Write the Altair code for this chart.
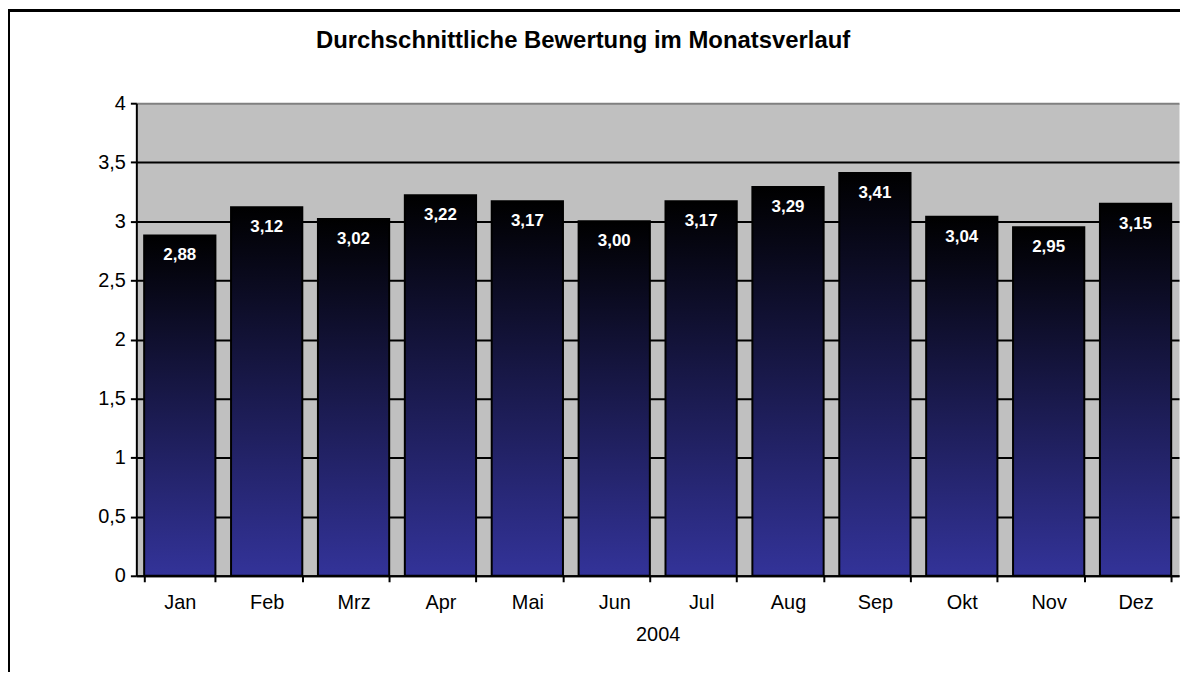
import altair as alt
import pandas as pd

months = ["Jan", "Feb", "Mrz", "Apr", "Mai", "Jun", "Jul", "Aug", "Sep", "Okt", "Nov", "Dez"]
values = [2.88, 3.12, 3.02, 3.22, 3.17, 3.00, 3.17, 3.29, 3.41, 3.04, 2.95, 3.15]
y_ticks = [0, 0.5, 1, 1.5, 2, 2.5, 3, 3.5, 4]
title_text = "Durchschnittliche Bewertung im Monatsverlauf"
x_title = "2004"

df = pd.DataFrame({"Monat": months, "Wert": values})
df_title = pd.DataFrame({"t": [title_text]})

W, H = 1048, 475
FONT = "Liberation Sans, Arial, sans-serif"

x_enc = alt.X(
    "Monat:N",
    sort=months,
    scale=alt.Scale(paddingInner=0.18, paddingOuter=0.09),
    axis=alt.Axis(
        title=x_title,
        labelAngle=0,
        labelFont=FONT,
        labelFontSize=20,
        labelColor="black",
        labelPadding=11,
        titleFont=FONT,
        titleFontSize=20,
        titleFontWeight="normal",
        titleColor="black",
        titlePadding=12,
        tickBand="extent",
        tickColor="black",
        tickWidth=2,
        tickSize=6,
        domainColor="black",
        domainWidth=2,
        grid=False,
    ),
)
y_enc = alt.Y(
    "Wert:Q",
    scale=alt.Scale(domain=[0, 4], nice=False),
    axis=alt.Axis(
        title=None,
        values=y_ticks,
        labelExpr="replace(toString(datum.value), '.', ',')",
        labelFont=FONT,
        labelFontSize=20,
        labelColor="black",
        labelPadding=5,
        tickColor="black",
        tickWidth=2,
        tickSize=6,
        domainColor="black",
        domainWidth=2,
        grid=True,
        gridColor={"condition": {"test": "datum.value === 4", "value": "#808080"}, "value": "black"},
        gridWidth=2,
    ),
)

base = alt.Chart(df)

bars = base.mark_bar(
    fill=alt.LinearGradient(
        gradient="linear",
        stops=[
            alt.GradientStop(color="#000000", offset=0),
            alt.GradientStop(color="#333399", offset=1),
        ],
        x1=0, x2=0, y1=0, y2=1,
    ),
    stroke="black",
    strokeWidth=2,
).encode(x=x_enc, y=y_enc)

labels = base.transform_calculate(
    label="replace(format(datum.Wert, '.2f'), '.', ',')"
).mark_text(
    color="white",
    font=FONT,
    fontSize=17,
    fontWeight="bold",
    baseline="middle",
    dy=20,
).encode(x=alt.X("Monat:N", sort=months), y=alt.Y("Wert:Q"), text="label:N")

frame = base.mark_rect(
    fill="transparent", stroke="black", strokeWidth=2.5, clip=False
).encode(
    x=alt.value(-128.5), x2=alt.value(W + 200),
    y=alt.value(-93.5), y2=alt.value(H + 300),
)

title = alt.Chart(df_title).mark_text(
    font=FONT,
    fontSize=24,
    fontWeight="bold",
    color="black",
    align="center",
    baseline="alphabetic",
).encode(text="t:N", x=alt.value(449), y=alt.value(-55))

chart = alt.layer(bars, labels, frame, title).properties(
    width=W,
    height=H,
    autosize=alt.AutoSizeParams(type="none"),
    padding={"left": 129, "top": 94, "right": 1, "bottom": 95},
).configure(
    background="white"
).configure_view(
    fill="#C0C0C0", stroke="transparent"
)

chart.save("out.html", embed_options={"renderer": "svg", "actions": False})
